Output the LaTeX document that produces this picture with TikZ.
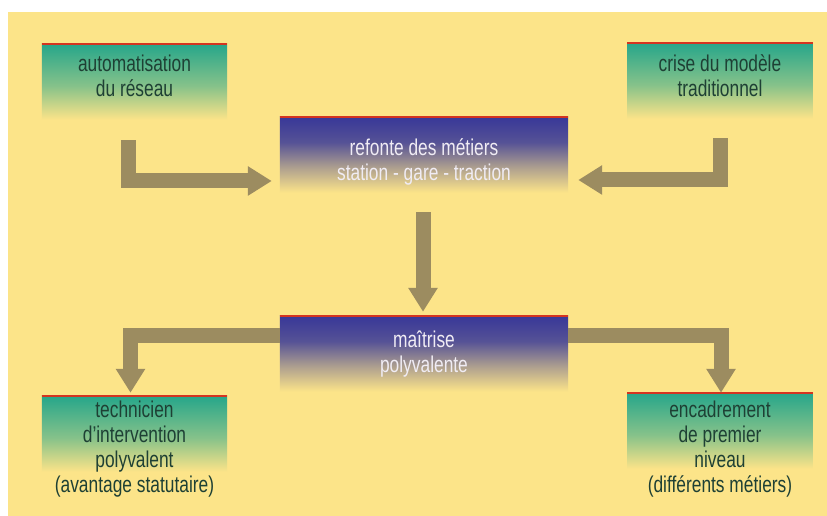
\documentclass[tikz,border=0pt]{standalone}
\usepackage{fontspec}
\setmainfont{Liberation Sans}[FakeStretch=0.76]
\usetikzlibrary{arrows.meta}
\definecolor{bgyellow}{RGB}{252,228,137}
\definecolor{boxteal}{RGB}{38,166,138}
\definecolor{boxblue}{RGB}{56,56,152}
\definecolor{topred}{RGB}{212,52,32}
\definecolor{flowkhaki}{RGB}{156,140,96}
\definecolor{tealtext}{RGB}{30,64,52}
\definecolor{bluetext}{RGB}{240,236,244}
\pgfdeclareverticalshading{tealfade}{100bp}{color(0bp)=(bgyellow); color(30bp)=(bgyellow); color(50bp)=(boxteal!55!bgyellow); color(75bp)=(boxteal); color(100bp)=(boxteal)}
\pgfdeclareverticalshading{bluefade}{100bp}{color(0bp)=(bgyellow); color(30bp)=(bgyellow); color(45bp)=(boxblue!40!bgyellow); color(60bp)=(boxblue!85!bgyellow); color(75bp)=(boxblue); color(100bp)=(boxblue)}
\begin{document}
\begin{tikzpicture}[
  x=0.03cm, y=-0.03cm,
  tealbox/.style={shading=tealfade, minimum width=5.55cm, minimum height=2.52cm, inner sep=0pt},
  bluebox/.style={shading=bluefade, minimum width=8.64cm, minimum height=2.52cm, inner sep=0pt},
  darktext/.style={text=tealtext, align=center, anchor=north, inner sep=0pt},
  lighttext/.style={text=bluetext, align=center, anchor=north, inner sep=0pt},
  flow/.style={draw=flowkhaki, line width=0.45cm, -{Triangle[width=0.84cm,length=0.72cm]}},
  topline/.style={draw=topred, line width=0.075cm},
  font=\fontsize{19.5}{21.3}\selectfont
]
\useasboundingbox (0,0) rectangle (827,516);
\fill[bgyellow] (8,12) rectangle (827,516);

\node[tealbox] (auto) at (134.5,86) {};
\node[tealbox] (crise) at (720,85) {};
\node[bluebox] (refonte) at (424,159) {};
\node[bluebox] (maitrise) at (424,358) {};
\node[tealbox] (tech) at (134.5,438) {};
\node[tealbox] (encad) at (720,435) {};

\node[darktext] (autotext) at ([shift={(0,11)}]auto.north) {automatisation\\du réseau};
\node[darktext] (crisetext) at ([shift={(0,12)}]crise.north) {crise du modèle\\traditionnel};
\node[lighttext] (refontetext) at ([shift={(0,22)}]refonte.north) {refonte des métiers\\station - gare - traction};
\node[lighttext] (maitrisetext) at ([shift={(0,15)}]maitrise.north) {maîtrise\\polyvalente};
\node[darktext] (techtext) at ([shift={(0,5)}]tech.north) {technicien\\d’intervention\\polyvalent\\(avantage statutaire)};
\node[darktext] (encadtext) at ([shift={(0,8)}]encad.north) {encadrement\\de premier\\niveau\\(différents métiers)};

\foreach \b in {auto,crise,refonte,maitrise,tech,encad}
  \draw[topline] (\b.north west) -- (\b.north east);

\draw[flow] ([shift={(-6.5,12)}]auto.south) |- ([shift={(-8,22)}]refonte.west);
\draw[flow] ([shift={(0,11)}]crise.south) |- ([shift={(10,21)}]refonte.east);
\draw[flow] ([shift={(-1,11)}]refonte.south) -- ([shift={(-1,-4)}]maitrise.north);
\draw[flow] ([shift={(0,-22)}]maitrise.west) -| ([shift={(-4,-3)}]tech.north);
\draw[flow] ([shift={(0,-22)}]maitrise.east) -| ([shift={(1,0)}]encad.north);
\end{tikzpicture}
\end{document}
